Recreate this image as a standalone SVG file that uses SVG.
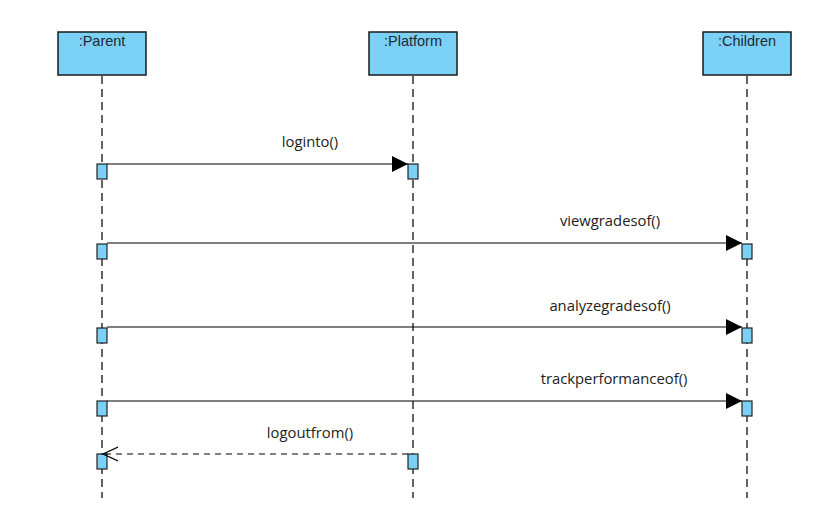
<svg xmlns="http://www.w3.org/2000/svg" width="831" height="522" viewBox="0 0 831 522">
  <style>
    .head { fill: #7ad0f5; stroke: #1a1a1a; stroke-width: 1.5; }
    .head-label { font-family: "Liberation Sans", Arial, sans-serif; font-size: 14.5px; fill: #1f2a33; text-anchor: middle; }
    .lifeline { stroke: #111; stroke-width: 1.3; stroke-dasharray: 8 5; fill: none; }
    .act { fill: #7ad0f5; stroke: #222; stroke-width: 1.2; }
    .msg { stroke: #000; stroke-width: 1.2; fill: none; }
    .reply { stroke: #000; stroke-width: 1.2; fill: none; stroke-dasharray: 6 5; }
    .msg-label { font-family: "Open Sans", "Noto Sans", sans-serif; font-size: 14.8px; fill: #222; text-anchor: middle; }
  </style>
  <defs>
    <marker id="filled" viewBox="0 0 16 16" refX="16" refY="8" markerWidth="16" markerHeight="16" markerUnits="userSpaceOnUse" orient="auto">
      <path d="M0,0 L16,8 L0,16 Z" fill="#000"/>
    </marker>
    <marker id="open" viewBox="0 0 16 16" refX="15" refY="8" markerWidth="16" markerHeight="16" markerUnits="userSpaceOnUse" orient="auto">
      <path d="M0,1 L15,8 L0,15" fill="none" stroke="#000" stroke-width="1.2"/>
    </marker>
  </defs>
  <rect width="831" height="522" fill="#fff"/>

  <g id="parent">
    <rect class="head" x="58" y="32" width="88" height="43"/>
    <text class="head-label" x="102" y="46">:Parent</text>
    <line class="lifeline" x1="102" y1="76" x2="102" y2="498"/>
  </g>
  <g id="platform">
    <rect class="head" x="369" y="32" width="88" height="43"/>
    <text class="head-label" x="413" y="46">:Platform</text>
    <line class="lifeline" x1="413" y1="76" x2="413" y2="498"/>
  </g>
  <g id="children">
    <rect class="head" x="703" y="32" width="88" height="43"/>
    <text class="head-label" x="747" y="46">:Children</text>
    <line class="lifeline" x1="747" y1="76" x2="747" y2="498"/>
  </g>

  <g id="activations">
    <rect class="act" x="97" y="164" width="10" height="15"/>
    <rect class="act" x="408" y="164" width="10" height="15"/>
    <rect class="act" x="97" y="244" width="10" height="15"/>
    <rect class="act" x="742" y="244" width="10" height="15"/>
    <rect class="act" x="97" y="328" width="10" height="15"/>
    <rect class="act" x="742" y="328" width="10" height="15"/>
    <rect class="act" x="97" y="401" width="10" height="15"/>
    <rect class="act" x="742" y="401" width="10" height="15"/>
    <rect class="act" x="97" y="454" width="10" height="15"/>
    <rect class="act" x="408" y="454" width="10" height="15"/>
  </g>

  <g id="connectors">
    <line class="msg" x1="107" y1="164" x2="408" y2="164" marker-end="url(#filled)"/>
    <text class="msg-label" x="310" y="147">loginto()</text>
    <line class="msg" x1="107" y1="243" x2="742" y2="243" marker-end="url(#filled)"/>
    <text class="msg-label" x="610" y="226">viewgradesof()</text>
    <line class="msg" x1="107" y1="327" x2="742" y2="327" marker-end="url(#filled)"/>
    <text class="msg-label" x="610" y="311">analyzegradesof()</text>
    <line class="msg" x1="107" y1="401" x2="742" y2="401" marker-end="url(#filled)"/>
    <text class="msg-label" x="614" y="384">trackperformanceof()</text>
    <line class="reply" x1="408" y1="454" x2="103" y2="454" marker-end="url(#open)"/>
    <text class="msg-label" x="310" y="438">logoutfrom()</text>
  </g>
</svg>
